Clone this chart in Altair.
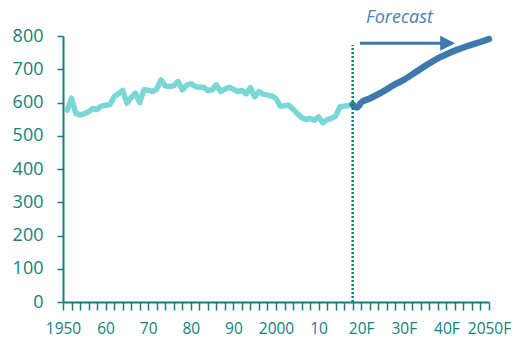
import altair as alt
import pandas as pd

# ---- data ----
hist_years = list(range(1951, 2019))
hist_values = [
    577, 613, 567, 563, 566, 572, 582, 579, 589, 592,
    593, 617, 626, 636, 598, 615, 628, 600, 638, 637,
    633, 640, 668, 650, 648, 650, 663, 638, 652, 657,
    648, 646, 646, 636, 638, 653, 633, 640, 646, 640,
    633, 636, 626, 645, 617, 633, 625, 622, 620, 612,
    589, 590, 592, 580, 567, 555, 549, 552, 547, 557,
    539, 548, 552, 559, 587, 589, 591, 594,
]
fc_years = [2018, 2019, 2020, 2022, 2025, 2028, 2030, 2033, 2036, 2038, 2040, 2042, 2045, 2048, 2050]
fc_values = [594, 585, 600, 612, 632, 655, 668, 693, 718, 733, 745, 756, 770, 782, 791]

y_ticks = [0, 100, 200, 300, 400, 500, 600, 700, 800]
x_tick_years = list(range(1950, 2051, 2))
x_label_years = [1950, 1960, 1970, 1980, 1990, 2000, 2010, 2020, 2030, 2040, 2050]
x_label_texts = ["1950", "60", "70", "80", "90", "2000", "10", "20F", "30F", "40F", "2050F"]

divider_year = [2018]
divider_top = [773]
arrow_start = [2019.7]
arrow_end = [2041]
arrow_head_year = [2040.3]
arrow_level = [778]
forecast_label = ["Forecast"]
forecast_label_year = [2029]
forecast_label_level = [855]

TEAL = "#167f7e"
HIST = "#79d7d5"
FC = "#3e78ad"
FC_TEXT = "#4f7eb0"
FONT = "Open Sans"

hist_df = pd.DataFrame({"year": hist_years, "value": hist_values})
fc_df = pd.DataFrame({"year": fc_years, "value": fc_values})
div_df = pd.DataFrame({"year": divider_year, "value": [0], "top": divider_top})
arrow_df = pd.DataFrame({"year": arrow_start, "end": arrow_end, "value": arrow_level})
head_df = pd.DataFrame({"year": arrow_head_year, "value": arrow_level})
text_df = pd.DataFrame({"year": forecast_label_year, "value": forecast_label_level, "t": forecast_label})

label_expr = ""
for yv, tx in zip(x_label_years, x_label_texts):
    label_expr += f"datum.value == {yv} ? '{tx}' : "
label_expr += "''"

xscale = alt.Scale(domain=[1950, 2050], nice=False, zero=False)
yscale = alt.Scale(domain=[0, 800], nice=False)

x_axis = alt.Axis(
    values=x_tick_years, labelExpr=label_expr, title=None, grid=False,
    labelOverlap=False, labelFlush=False, tickSize=8, tickWidth=1.5,
    labelPadding=11, labelFontSize=15.5, labelFont=FONT, labelColor=TEAL,
    domainColor=TEAL, domainWidth=2, tickColor=TEAL,
)
y_axis = alt.Axis(
    values=y_ticks, title=None, grid=False, tickSize=6, tickWidth=1.5,
    labelPadding=14, labelFontSize=18, labelFont=FONT, labelColor=TEAL,
    domainColor=TEAL, domainWidth=2, tickColor=TEAL,
)

X = alt.X("year:Q", scale=xscale, axis=x_axis, title=None)
Y = alt.Y("value:Q", scale=yscale, axis=y_axis, title=None)

hist = alt.Chart(hist_df).mark_line(
    color=HIST, strokeWidth=5.5, strokeJoin="round", strokeCap="round"
).encode(x=X, y=Y)

fc = alt.Chart(fc_df).mark_line(
    color=FC, strokeWidth=6.5, strokeJoin="round", strokeCap="round", interpolate="monotone"
).encode(x=X, y=Y)

divider = alt.Chart(div_df).mark_rule(
    color=TEAL, strokeWidth=2.5, strokeDash=[2, 2]
).encode(x=X, y=Y, y2="top:Q")

arrow = alt.Chart(arrow_df).mark_rule(color=FC, strokeWidth=3).encode(
    x=X, x2="end:Q", y=Y
)

head = alt.Chart(head_df).mark_point(
    shape="M -1 -1 L 1 0 L -1 1 Z", size=225, filled=True, color=FC, opacity=1
).encode(x=X, y=Y)

label = alt.Chart(text_df).mark_text(
    font=FONT, fontSize=18, fontStyle="italic", color=FC_TEXT, align="center", baseline="middle"
).encode(x=X, y=Y, text="t:N")

chart = alt.layer(hist, fc, divider, arrow, head, label).properties(
    width=426, height=266,
    autosize=alt.AutoSizeParams(type="none"),
    padding={"left": 63, "top": 36, "right": 29, "bottom": 36},
    background="white",
).configure_view(stroke=None)

chart.save("out.html", embed_options={"renderer": "svg", "actions": False})
